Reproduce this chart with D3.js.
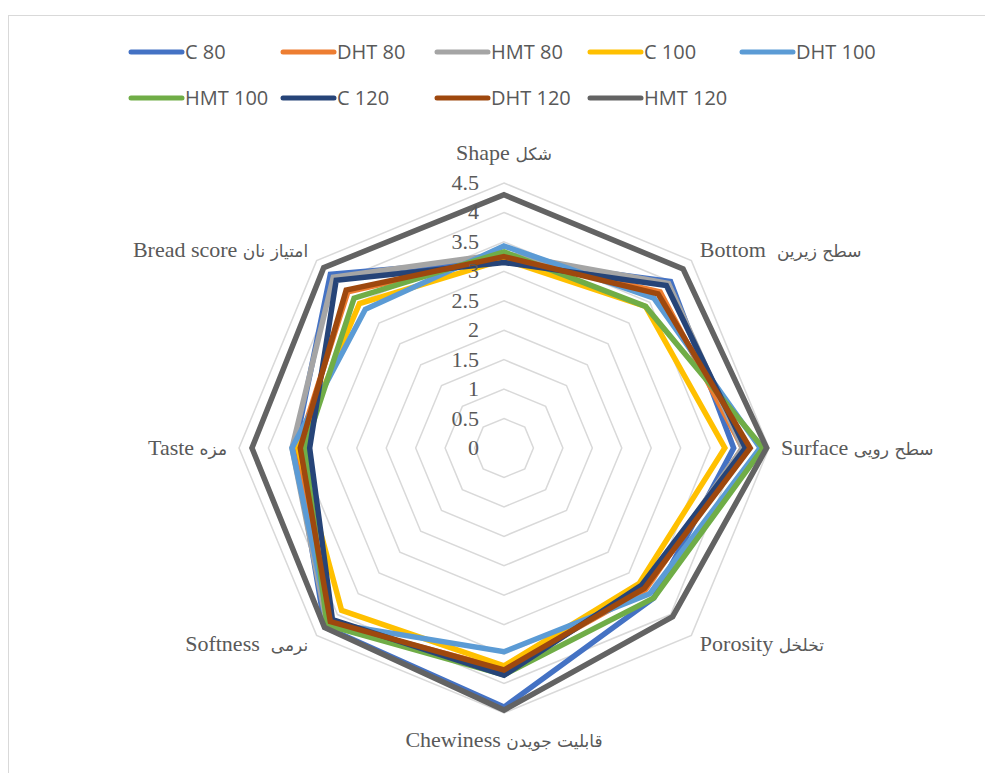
<!DOCTYPE html>
<html lang="en">
<head>
<meta charset="UTF-8">
<title>Radar chart</title>
<style>
  body { margin: 0; background: #fff; }
  svg { display: block; }
  .legend text { font-family: "Open Sans", sans-serif; font-size: 20px; fill: #595959; }
  .axis-label { font-family: "Liberation Serif", "Times New Roman", serif; font-size: 22px; fill: #595959; white-space: pre; }
  .axis-label .fa { font-family: "DejaVu Sans", sans-serif; font-size: 17px; }
  .tick { font-family: "Liberation Serif", "Times New Roman", serif; font-size: 22px; fill: #595959; }
</style>
</head>
<body>
<script src="https://cdn.jsdelivr.net/npm/d3@7/dist/d3.min.js"></script>
<script>

// categories (English part, Persian part)
var axesEn = ["Shape", "Bottom ", "Surface", "Porosity", "Chewiness", "Softness ", "Taste", "Bread score"];
var axesFa = ["شکل", "سطح زیرین", "سطح رویی", "تخلخل", "قابلیت جویدن", "نرمی", "مزه", "امتیاز نان"];

var seriesNames = ["C 80", "DHT 80", "HMT 80", "C 100", "DHT 100", "HMT 100", "C 120", "DHT 120", "HMT 120"];
var seriesColors = ["#4472C4", "#ED7D31", "#A5A5A5", "#FFC000", "#5B9BD5", "#70AD47", "#264478", "#9E480E", "#636363"];

// values per series, in axis order
var c80    = [3.20, 4.00, 3.90, 3.60, 4.40, 4.30, 3.55, 4.17];
var dht80  = [3.25, 3.75, 4.05, 3.40, 3.75, 4.20, 3.50, 3.75];
var hmt80  = [3.30, 3.95, 4.05, 3.35, 3.80, 4.25, 3.60, 4.10];
var c100   = [3.20, 3.40, 3.75, 3.25, 3.70, 3.90, 3.50, 3.47];
var dht100 = [3.43, 3.60, 4.35, 3.50, 3.46, 4.20, 3.60, 3.33];
var hmt100 = [3.33, 3.40, 4.40, 3.60, 3.85, 4.25, 3.38, 3.60];
var c120   = [3.15, 3.90, 4.10, 3.30, 3.86, 4.12, 3.30, 4.03];
var dht120 = [3.25, 3.70, 4.18, 3.37, 3.77, 4.17, 3.46, 3.79];
var hmt120 = [4.30, 4.30, 4.46, 4.05, 4.45, 4.31, 4.28, 4.33];
var seriesValues = [c80, dht80, hmt80, c100, dht100, hmt100, c120, dht120, hmt120];

var ticks = [0, 0.5, 1, 1.5, 2, 2.5, 3, 3.5, 4, 4.5];

var width = 985, height = 773;
var cx = 504, cy = 448, R = 265;

var svg = d3.select("body").append("svg")
    .attr("width", width)
    .attr("height", height);

// chart area border
svg.append("rect")
    .attr("x", 8.5).attr("y", 15.5)
    .attr("width", 1000).attr("height", 800)
    .attr("fill", "none").attr("stroke", "#d9d9d9").attr("stroke-width", 1);

var r = d3.scaleLinear().domain([0, 4.5]).range([0, R]);
var n = axesEn.length;
var angle = function(i) { return i * 2 * Math.PI / n; };

var g = svg.append("g").attr("transform", "translate(" + cx + "," + cy + ")");

// grid octagons
var ring = d3.lineRadial()
    .angle(function(d, i) { return angle(i); })
    .radius(function(d) { return r(d); })
    .curve(d3.curveLinearClosed);

g.selectAll(".grid")
    .data(ticks)
    .enter().append("path")
    .attr("class", "grid")
    .attr("d", function(t) { return ring(d3.range(n).map(function() { return t; })); })
    .attr("fill", "none")
    .attr("stroke", "#d9d9d9")
    .attr("stroke-width", 1.5);

// series
g.selectAll(".series")
    .data(seriesValues)
    .enter().append("path")
    .attr("class", "series")
    .attr("d", ring)
    .attr("fill", "none")
    .attr("stroke", function(d, i) { return seriesColors[i]; })
    .attr("stroke-width", 5.5)
    .attr("stroke-linejoin", "miter");

// tick labels
g.selectAll(".tick")
    .data(ticks)
    .enter().append("text")
    .attr("class", "tick")
    .attr("x", -25)
    .attr("y", function(t) { return -r(t) + 7; })
    .attr("text-anchor", "end")
    .text(function(t) { return t; });

// axis labels
var labelR = R + 12;
var labels = g.selectAll(".axis-label")
    .data(axesEn)
    .enter().append("text")
    .attr("class", "axis-label")
    .attr("x", function(d, i) { return labelR * Math.sin(angle(i)); })
    .attr("y", function(d, i) {
        var c = Math.cos(angle(i));
        var y = -labelR * c;
        if (c > 0.9) return y - 11;
        if (c < -0.9) return y + 22;
        if (c > 0.5) return y + 5;
        return y + 7;
    })
    .attr("text-anchor", function(d, i) {
        var s = Math.sin(angle(i));
        return s > 0.01 ? "start" : (s < -0.01 ? "end" : "middle");
    });

labels.append("tspan").text(function(d) { return d + " "; });
labels.append("tspan").attr("class", "fa").text(function(d, i) { return axesFa[i]; });

// legend
var legendRows = [[0, 1, 2, 3, 4], [5, 6, 7, 8]];
var legendX = [129, 281, 435, 588, 740];
var legendY = [52, 98];
var legend = svg.append("g").attr("class", "legend");
legendRows.forEach(function(row, ri) {
    row.forEach(function(si, ci) {
        var item = legend.append("g")
            .attr("transform", "translate(" + legendX[ci] + "," + legendY[ri] + ")");
        item.append("line")
            .attr("x1", 2).attr("x2", 53)
            .attr("y1", 0).attr("y2", 0)
            .attr("stroke", seriesColors[si])
            .attr("stroke-width", 5)
            .attr("stroke-linecap", "round");
        item.append("text")
            .attr("x", 56)
            .attr("y", 7)
            .text(seriesNames[si]);
    });
});

</script>
</body>
</html>
